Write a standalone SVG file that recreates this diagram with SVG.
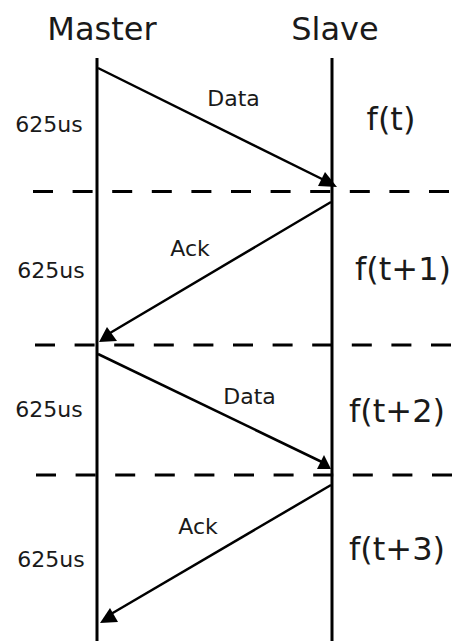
<svg xmlns="http://www.w3.org/2000/svg" width="454" height="641" viewBox="0 0 454 641">
<style>
.life{stroke:#000;stroke-width:3;fill:none}
.dash{stroke:#000;stroke-width:3;stroke-dasharray:20 19.6;fill:none}
.msg{stroke:#000;stroke-width:2.5;fill:none}
.head{fill:#000}
text{font-family:"DejaVu Sans","Liberation Sans",sans-serif;fill:#1a1a1a;text-anchor:middle}
.big{font-size:32px}
.small{font-size:22px}
</style>
<rect width="454" height="641" fill="#fff"/>
<g id="master">
<text class="big" x="102" y="40">Master</text>
<line class="life" x1="97" y1="58" x2="97" y2="641"/>
</g>
<g id="slave">
<text class="big" x="335" y="40">Slave</text>
<line class="life" x1="332" y1="58" x2="332" y2="641"/>
</g>
<g id="slots">
<line class="dash" x1="33" y1="191.5" x2="454" y2="191.5"/>
<line class="dash" x1="35" y1="345" x2="454" y2="345"/>
<line class="dash" x1="36" y1="475" x2="454" y2="475"/>
<text class="small" x="49" y="132">625us</text>
<text class="small" x="51" y="278">625us</text>
<text class="small" x="49" y="417">625us</text>
<text class="small" x="51" y="567">625us</text>
<text class="big" x="391" y="130">f(t)</text>
<text class="big" x="403" y="280">f(t+1)</text>
<text class="big" x="397" y="422">f(t+2)</text>
<text class="big" x="397" y="560">f(t+3)</text>
</g>
<g id="connectors">
<line class="msg" x1="98" y1="68" x2="326" y2="181"/>
<polygon class="head" points="318,186 325,172 337,187"/>
<line class="msg" x1="331" y1="202" x2="110" y2="333"/>
<polygon class="head" points="99,342 107,327 117,341"/>
<line class="msg" x1="98" y1="354" x2="324" y2="463"/>
<polygon class="head" points="317,469 324,455 331,469"/>
<line class="msg" x1="331" y1="485" x2="111" y2="614"/>
<polygon class="head" points="100,623 110,608 118,622"/>
<text class="small" x="233.5" y="106">Data</text>
<text class="small" x="190" y="256">Ack</text>
<text class="small" x="249.5" y="404">Data</text>
<text class="small" x="198" y="534">Ack</text>
</g>
</svg>
